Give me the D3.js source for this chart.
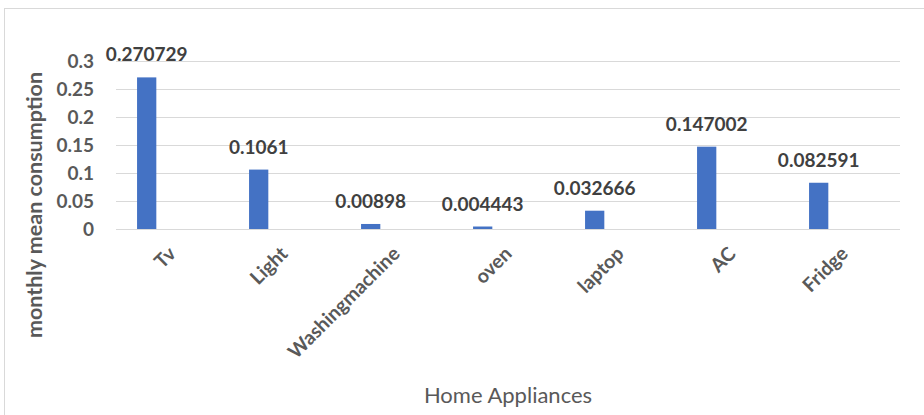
<!DOCTYPE html>
<html>
<head>
<meta charset="utf-8">
<script src="https://cdn.jsdelivr.net/npm/d3@7"></script>
<style>
  html, body { margin: 0; padding: 0; background: #fff; }
  svg { display: block; font-family: Lato, "Open Sans", sans-serif; }
</style>
</head>
<body>
<svg id="chart" width="924" height="415"></svg>
<script>
const categories = ["Tv", "Light", "Washingmachine", "oven", "laptop", "AC", "Fridge"];
const values = [0.270729, 0.1061, 0.00898, 0.004443, 0.032666, 0.147002, 0.082591];
const valueLabels = ["0.270729", "0.1061", "0.00898", "0.004443", "0.032666", "0.147002", "0.082591"];
const yTicks = [0, 0.05, 0.1, 0.15, 0.2, 0.25, 0.3];
const yTickLabels = ["0", "0.05", "0.1", "0.15", "0.2", "0.25", "0.3"];
const xTitle = "Home Appliances";
const yTitle = "monthly mean consumption";

const svg = d3.select("#chart");
const W = 924, H = 415;
const plot = { left: 116, right: 900, top: 61, bottom: 229 };

// chart area border
svg.append("rect")
  .attr("x", 4.5).attr("y", 8.5)
  .attr("width", W + 20).attr("height", H + 20)
  .attr("fill", "#fff").attr("stroke", "#d9d9d9").attr("stroke-width", 1);

const x = d3.scaleBand().domain(categories).range([plot.left, plot.right]).padding(0);
const y = d3.scaleLinear().domain([0, 0.3]).range([plot.bottom, plot.top]);

// gridlines
const yAxis = d3.axisLeft(y).tickValues(yTicks)
  .tickSize(-(plot.right - plot.left))
  .tickFormat((d, i) => yTickLabels[i]);
const gy = svg.append("g").attr("transform", `translate(${plot.left},0)`).call(yAxis);
gy.select(".domain").remove();
gy.selectAll(".tick line").attr("stroke", "#d9d9d9").attr("stroke-width", 1);
gy.selectAll(".tick text")
  .attr("x", -22).attr("dy", "0.35em")
  .attr("fill", "#595959")
  .style("font-size", "19px").style("font-weight", "bold")
  .style("font-family", "Lato, sans-serif");

// bars (offset within category like the original)
const barOffset = x.bandwidth() * 0.188;
const barWidth = x.bandwidth() * 0.172;
svg.append("g").selectAll("rect").data(categories).join("rect")
  .attr("x", d => x(d) + barOffset)
  .attr("y", (d, i) => y(values[i]))
  .attr("width", barWidth)
  .attr("height", (d, i) => y(0) - y(values[i]))
  .attr("fill", "#4472c4");

// data labels
svg.append("g").selectAll("text").data(categories).join("text")
  .attr("x", d => x(d) + barOffset + barWidth / 2)
  .attr("y", (d, i) => y(values[i]) - 16)
  .attr("text-anchor", "middle")
  .attr("fill", "#404040")
  .style("font-size", "19px").style("font-weight", "bold")
  .text((d, i) => valueLabels[i]);

// x axis category labels
const xAxis = d3.axisBottom(x).tickSize(0).tickPadding(0);
const gx = svg.append("g").attr("transform", `translate(0,${plot.bottom})`).call(xAxis);
gx.select(".domain").remove();
gx.selectAll(".tick text")
  .attr("text-anchor", "end")
  .attr("y", 0).attr("dy", 0)
  .attr("transform", "translate(5,26) rotate(-45)")
  .attr("fill", "#595959")
  .style("font-size", "19.5px").style("font-weight", "bold")
  .style("font-family", "Lato, sans-serif");

// axis titles
svg.append("text")
  .attr("x", (plot.left + plot.right) / 2).attr("y", 403)
  .attr("text-anchor", "middle")
  .attr("fill", "#595959")
  .style("font-size", "22px")
  .text(xTitle);

svg.append("text")
  .attr("transform", "translate(42,205) rotate(-90)")
  .attr("text-anchor", "middle")
  .attr("fill", "#595959")
  .style("font-size", "21.5px").style("font-weight", "bold")
  .text(yTitle);
</script>
</body>
</html>
